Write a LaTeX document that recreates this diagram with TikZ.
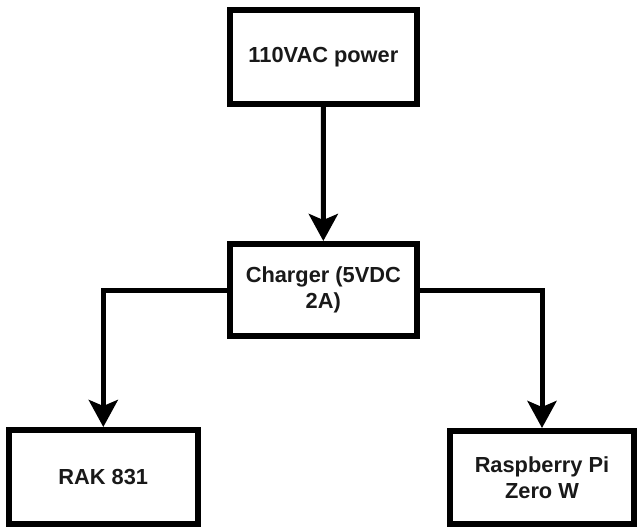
\documentclass[tikz,border=0pt]{standalone}
\usepackage{fontspec}
\setmainfont{Liberation Sans}
\usetikzlibrary{arrows.meta}
\begin{document}
\begin{tikzpicture}[x=1pt,y=-1pt,
  blockbox/.style={draw=black, line width=6pt, fill=white, rectangle,
    minimum width=187pt, minimum height=93pt, inner sep=0pt,
    align=center, font=\fontsize{21.8}{26}\selectfont\bfseries, text=black!90},
  conn/.style={draw=black, line width=5pt,
    -{Stealth[length=27pt,width=29pt,inset=6pt]}}]
  \useasboundingbox (0,0) rectangle (637,527);
  \node[blockbox] (ac) at (323.4,57) {110VAC power};
  \node[blockbox, minimum height=92pt] (chg) at (323.3,290) {Charger (5VDC\\2A)};
  \node[blockbox, minimum width=189.5pt, minimum height=94pt] (rak) at (103.3,477) {RAK 831};
  \node[blockbox, minimum width=184pt] (rpi) at (542,477.5) {Raspberry Pi\\Zero W};
  \draw[conn] (ac) -- (chg);
  \draw[conn] (chg.west) -| (rak.north);
  \draw[conn] (chg.east) -| (rpi.north);
\end{tikzpicture}
\end{document}
